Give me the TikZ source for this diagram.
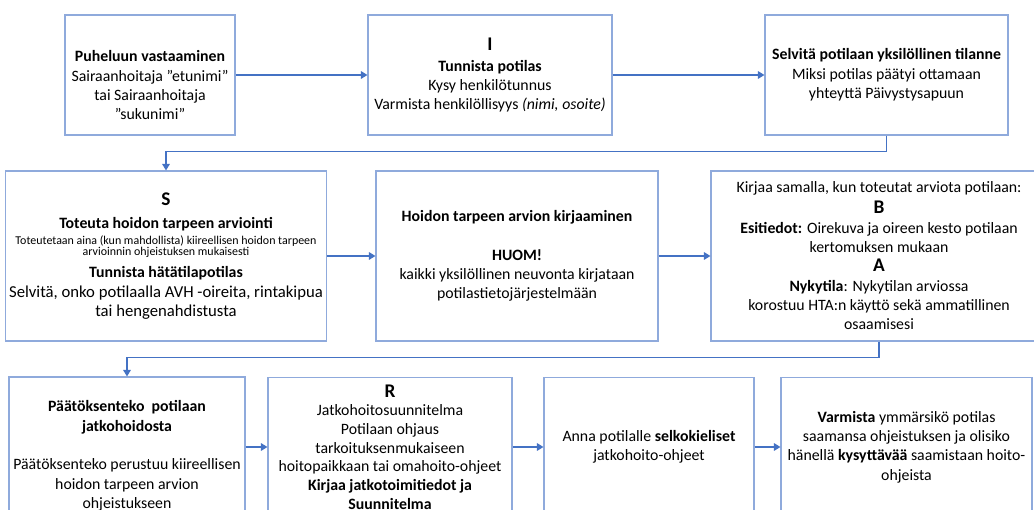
\documentclass[tikz,border=0pt]{standalone}
\usepackage{fontspec}
\setmainfont{Carlito}
\usetikzlibrary{arrows.meta}
\definecolor{boxblue}{RGB}{143,170,220}
\definecolor{linkblue}{RGB}{68,114,196}
\newcommand{\tinytxt}{\fontsize{6.8}{7}\selectfont}
\newcommand{\bigtxt}{\fontsize{9.5}{11}\selectfont}
\newcommand{\lettr}[1]{{\fontsize{11}{12}\selectfont\textbf{#1}}}

\begin{document}
\begin{tikzpicture}[
  box/.style={draw=boxblue, line width=0.6pt, align=center, inner sep=2pt, font=\fontsize{9}{11}\selectfont},
  link/.style={draw=linkblue, line width=0.8pt, -{Triangle[length=1.3mm, width=1.5mm]}}
]
\useasboundingbox (0,0) rectangle (20.68,-10.2);
\clip (0,0) rectangle (20.68,-10.2);

% first row
\node[box, minimum width=3.4cm, minimum height=2.4cm] (answer) at (3.0,-1.5)
  {\rule{0pt}{18pt}\textbf{Puheluun vastaaminen}\\Sairaanhoitaja ”etunimi”\\tai Sairaanhoitaja\\”sukunimi”};
\node[box, minimum width=4.88cm, minimum height=2.4cm] (identify) at (9.8,-1.5)
  {\lettr{I}\\[1pt]\textbf{Tunnista potilas}\\Kysy henkilötunnus\\Varmista henkilöllisyys \textit{(nimi, osoite)}};
\node[box, minimum width=4.86cm, minimum height=2.4cm] (situation) at (17.73,-1.5)
  {\textbf{Selvitä potilaan yksilöllinen tilanne}\\Miksi potilas päätyi ottamaan\\yhteyttä Päivystysapuun};

% second row
\node[box, minimum width=6.28cm, minimum height=3.4cm] (assess) at (3.32,-5.12)
  {\lettr{S}\\[2pt]\textbf{Toteuta hoidon tarpeen arviointi}\\[-2pt]
   {\tinytxt Toteutetaan aina (kun mahdollista) kiireellisen hoidon tarpeen}\\[-4.4pt]
   {\tinytxt arvioinnin ohjeistuksen mukaisesti}\\[1.5pt]
   \textbf{Tunnista hätätilapotilas}\\{\bigtxt Selvitä, onko potilaalla AVH -oireita, rintakipua}\\{\bigtxt tai hengenahdistusta}};
\node[box, minimum width=5.64cm, minimum height=3.4cm] (record) at (10.34,-5.12)
  {\textbf{Hoidon tarpeen arvion kirjaaminen}\\[11pt]\textbf{HUOM!}\\kaikki yksilöllinen neuvonta kirjataan\\potilastietojärjestelmään};
\node[box, minimum width=6.72cm, minimum height=3.4cm] (background) at (17.58,-5.12)
  {Kirjaa samalla, kun toteutat arviota potilaan:\\[1pt]\lettr{B}\\\textbf{Esitiedot:} Oirekuva ja oireen kesto potilaan\\kertomuksen mukaan\\\lettr{A}\\
   \textbf{Nykytila}: Nykytilan arviossa\\korostuu HTA:n käyttö sekä ammatillinen\\osaamisesi};

% third row
\node[box, minimum width=4.72cm, minimum height=3.16cm] (decision) at (2.54,-9.12)
  {\textbf{Päätöksenteko\ \ potilaan}\\\textbf{jatkohoidosta}\\[11pt]Päätöksenteko perustuu kiireellisen\\hoidon tarpeen arvion\\ohjeistukseen};
\node[box, minimum width=4.88cm, minimum height=2.78cm, font=\fontsize{9}{10.6}\selectfont] (plan) at (7.8,-8.94)
  {\lettr{R}\\Jatkohoitosuunnitelma\\Potilaan ohjaus\\tarkoituksenmukaiseen\\hoitopaikkaan tai omahoito-ohjeet\\
   \textbf{Kirjaa jatkotoimitiedot ja}\\\textbf{Suunnitelma}};
\node[box, minimum width=4.2cm, minimum height=2.78cm] (advice) at (12.98,-8.94)
  {Anna potilalle \textbf{selkokieliset}\\jatkohoito-ohjeet};
\node[box, minimum width=5.02cm, minimum height=2.78cm] (confirm) at (18.13,-8.94)
  {\textbf{Varmista} ymmärsikö potilas\\saamansa ohjeistuksen ja olisiko\\hänellä \textbf{kysyttävää} saamistaan hoito-\\ohjeista};

% connectors
\draw[link] (answer) -- (identify);
\draw[link] (identify) -- (situation);
\draw[link] (situation.south) -- ++(0,-0.32) -| (assess.north);
\draw[link] (assess) -- (record);
\draw[link] (record) -- (background);
\draw[link] (background.south) -- ++(0,-0.32) -| (decision.north);
\draw[link] (decision.east |- plan.west) -- (plan.west);
\draw[link] (plan) -- (advice);
\draw[link] (advice) -- (confirm);
\end{tikzpicture}
\end{document}
